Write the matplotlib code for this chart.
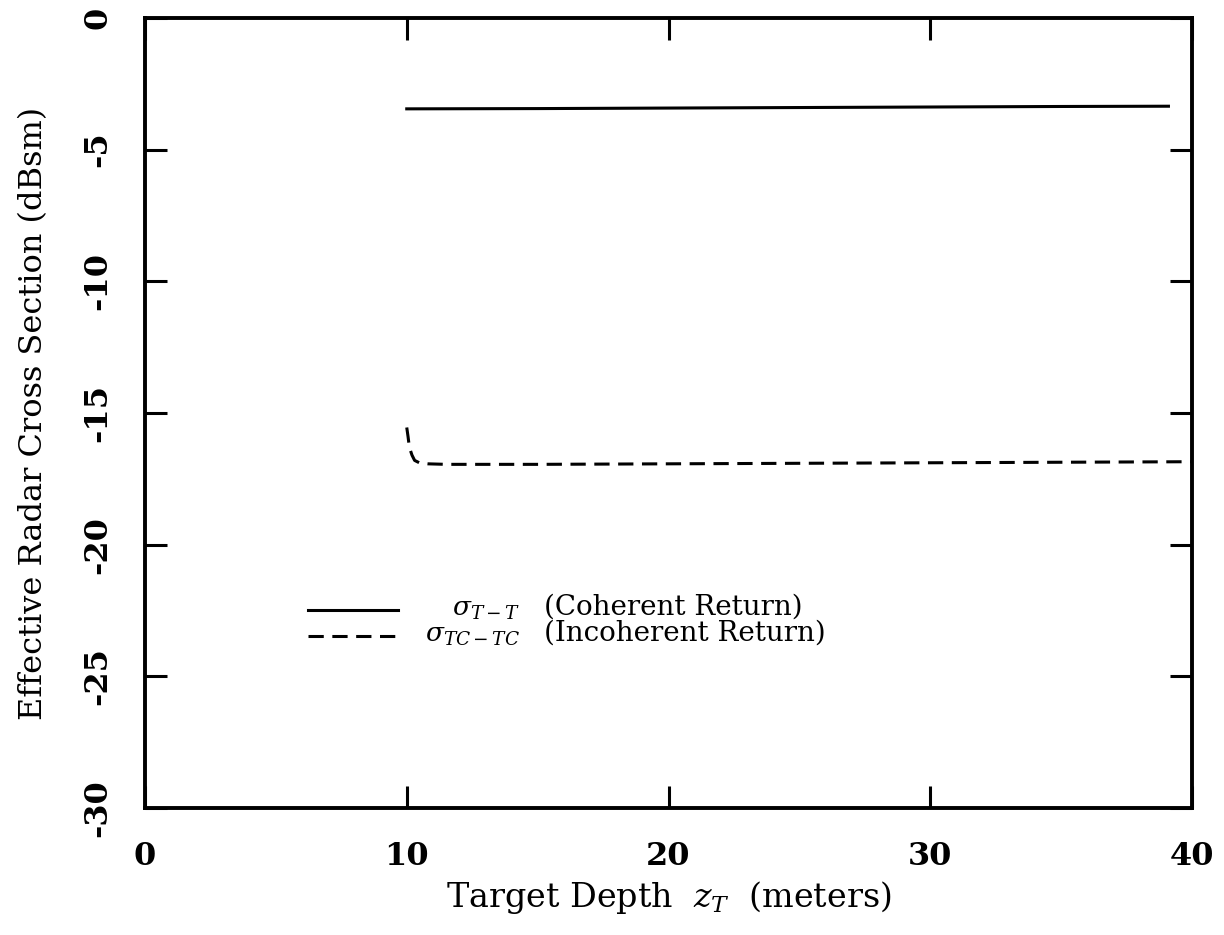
import numpy as np
import matplotlib
matplotlib.use("Agg")
import matplotlib.pyplot as plt

plt.rcParams['font.family'] = ['DejaVu Serif']
plt.rcParams['mathtext.fontset'] = 'dejavuserif'
plt.rcParams['axes.unicode_minus'] = False

# coherent return sigma_{T-T}
depth_coh = [10.0, 15.0, 20.0, 25.0, 30.0, 35.0, 39.1]
rcs_coh = [-3.45, -3.44, -3.42, -3.40, -3.38, -3.36, -3.35]

# incoherent return sigma_{TC-TC}
depth_inc = [10.0, 10.05, 10.1, 10.2, 10.3, 10.5, 10.8, 11.5, 15.0, 20.0, 25.0, 30.0, 35.0, 40.0]
rcs_inc = [-15.55, -15.9, -16.3, -16.6, -16.8, -16.9, -16.93, -16.95, -16.95, -16.93, -16.91, -16.89, -16.87, -16.85]

sym_labels = [r'$\sigma_{T-T}$', r'$\sigma_{TC-TC}$']
desc_labels = ['(Coherent Return)', '(Incoherent Return)']

fig = plt.figure(figsize=(12.24, 9.35), dpi=100)
ax = fig.add_axes([145/1224, 1-808/935, 1047/1224, 790/935])

ax.plot(depth_coh, rcs_coh, color='k', lw=2.2)
ax.plot(depth_inc, rcs_inc, color='k', lw=2.2, linestyle=(0, (5, 2.8)))

ax.set_xlim(0, 40)
ax.set_ylim(-30, 0)
ax.set_xticks([0, 10, 20, 30, 40])
ax.set_yticks([0, -5, -10, -15, -20, -25, -30])
ax.tick_params(direction='in', length=16, width=2.2, top=True, right=True,
               labelsize=23)
ax.tick_params(axis='x', pad=24)
ax.tick_params(axis='y', pad=23)
for lab in ax.get_xticklabels() + ax.get_yticklabels():
    lab.set_fontweight('bold')
for lab in ax.get_yticklabels():
    lab.set_rotation(90)
    lab.set_va('center')
for s in ax.spines.values():
    s.set_linewidth(2.8)

ax.set_xlabel(r'Target Depth  $z_T$  (meters)', fontsize=24, labelpad=5)
ax.set_ylabel('Effective Radar Cross Section (dBsm)', fontsize=23, labelpad=24)

# legend drawn by hand to keep the sigma symbols right aligned
styles = ['-', (0, (5, 2.8))]
for i in range(2):
    yy = 0.251 - i * 0.033
    ax.plot([0.156, 0.242], [yy, yy], transform=ax.transAxes, color='k',
            lw=2.2, linestyle=styles[i])
    ax.text(0.358, yy, sym_labels[i], transform=ax.transAxes, ha='right',
            va='center', fontsize=19)
    ax.text(0.381, yy + 0.003, desc_labels[i], transform=ax.transAxes, ha='left',
            va='center', fontsize=20)

plt.savefig('out.png', dpi=100)
